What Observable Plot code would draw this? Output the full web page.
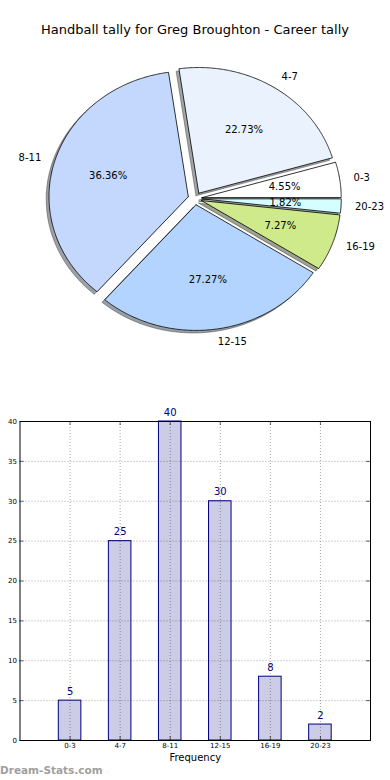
<!DOCTYPE html>
<html><head><meta charset="utf-8">
<script src="https://cdn.jsdelivr.net/npm/d3@7"></script>
<script src="https://cdn.jsdelivr.net/npm/@observablehq/plot@0.6"></script>
<style>
body{margin:0;background:#fff;font-family:"DejaVu Sans",sans-serif}
#wrap{position:relative;width:390px;height:780px;overflow:hidden;background:#fff}
#title{position:absolute;left:0;top:21px;width:390px;text-align:center;font-size:13px;line-height:18px;color:#000}
#pie{position:absolute;left:0;top:0}
#bar{position:absolute;left:0;top:390px}
#wm{position:absolute;left:0;top:763px;font-size:10.5px;font-weight:bold;color:#a0a0a0;line-height:14px}
svg{overflow:visible}
</style></head><body>
<div id="wrap"><div id="pie"></div><div id="bar"></div><div id="title">Handball tally for Greg Broughton - Career tally</div><div id="wm">Dream-Stats.com</div></div>
<script>
const categories = ["0-3","4-7","8-11","12-15","16-19","20-23"];
const frequencies = [5,25,40,30,8,2];
const sliceColors = ["#ffffff","#eaf2fe","#c4d8fe","#b3d4fe","#cfea8a","#d5feff"];
const yTicks = [0,5,10,15,20,25,30,35,40];

// pie geometry (matplotlib-like: start at 0°, counter-clockwise)
const total = d3.sum(frequencies);
const explode = 0.05, labelDist = 1.1, pctDist = 0.6;
let cum = 0;
const slices = categories.map((c,i) => {
  const t1 = cum/total*2*Math.PI; cum += frequencies[i]; const t2 = cum/total*2*Math.PI;
  const tm = (t1+t2)/2;
  const cx = explode*Math.cos(tm), cy = explode*Math.sin(tm);
  const n = Math.max(2, Math.ceil((t2-t1)/(Math.PI/360)));
  const pts = [{x:cx,y:cy}];
  for (let k=0;k<=n;k++){const t=t1+(t2-t1)*k/n; pts.push({x:cx+Math.cos(t), y:cy+Math.sin(t)});}
  pts.push({x:cx,y:cy});
  return {label:c, value:frequencies[i], color:sliceColors[i], pts,
    lx: cx+labelDist*Math.cos(tm), ly: cy+labelDist*Math.sin(tm),
    px: cx+pctDist*Math.cos(tm), py: cy+pctDist*Math.sin(tm),
    pct: (frequencies[i]/total*100).toFixed(2)+"%"};
});
function shadowOf(col){const c=d3.rgb(col);return d3.rgb(c.r*0.3,c.g*0.3,c.b*0.3).formatHex();}

const R = {cx:194.5, cy:198, rx:139.3, ry:125.7, W:390, H:390};
const pie = Plot.plot({
  width:R.W, height:R.H, margin:0,
  style:{fontFamily:"DejaVu Sans", background:"transparent"},
  x:{domain:[-R.cx/R.rx, (R.W-R.cx)/R.rx], axis:null},
  y:{domain:[-(R.H-R.cy)/R.ry, R.cy/R.ry], axis:null},
  marks:[
    ...slices.map(s=>Plot.line(s.pts,{x:d=>d.x-0.02,y:d=>d.y-0.02, fill:shadowOf(s.color), fillOpacity:0.5, stroke:shadowOf(s.color), strokeOpacity:0.5, strokeWidth:1})),
    ...slices.map(s=>Plot.line(s.pts,{x:"x",y:"y",fill:s.color,stroke:"#000",strokeWidth:0.8,strokeLinejoin:"miter"})),
    Plot.text(slices.filter(s=>s.lx>0),{x:"lx",y:"ly",text:"label",textAnchor:"start",fontSize:10}),
    Plot.text(slices.filter(s=>s.lx<=0),{x:"lx",y:"ly",text:"label",textAnchor:"end",fontSize:10}),
    Plot.text(slices,{x:"px",y:"py",text:"pct",fontSize:10})
  ]
});
document.getElementById("pie").appendChild(pie);

const barData = categories.map((c,i)=>({label:c, value:frequencies[i], pos:i+1}));
const positions = barData.map(d=>d.pos);
const M = {t:31,b:40,l:19.5,r:20,W:390,H:390};
const pw = M.W-M.l-M.r, ph = M.H-M.t-M.b, tl = 4;
const bar = Plot.plot({
  width:M.W, height:M.H, marginTop:M.t, marginBottom:M.b, marginLeft:M.l, marginRight:M.r,
  style:{fontFamily:"DejaVu Sans", background:"transparent"},
  x:{domain:[0,7], axis:null},
  y:{domain:[0,40], axis:null},
  marks:[
    Plot.rectY(barData,{x1:d=>d.pos-0.225, x2:d=>d.pos+0.225, y:"value", fill:"#ccccE6", stroke:"#000080", strokeWidth:1}),
    Plot.gridX(positions,{stroke:"#000", strokeOpacity:0.35, strokeDasharray:"1,2", strokeWidth:1}),
    Plot.gridY(yTicks,{stroke:"#000", strokeOpacity:0.35, strokeDasharray:"1,2", strokeWidth:1}),
    Plot.tickY(yTicks,{y:d=>d, insetRight:pw-tl, stroke:"#000", strokeWidth:0.6}),
    Plot.tickY(yTicks,{y:d=>d, insetLeft:pw-tl, stroke:"#000", strokeWidth:0.6}),
    Plot.tickX(positions,{x:d=>d, insetBottom:ph-tl, stroke:"#000", strokeWidth:0.6}),
    Plot.tickX(positions,{x:d=>d, insetTop:ph-tl, stroke:"#000", strokeWidth:0.6}),
    Plot.frame({stroke:"#000", strokeWidth:1}),
    Plot.axisY({ticks:yTicks, tickSize:0, tickPadding:3, fontSize:7, label:null}),
    Plot.axisX({ticks:positions, tickFormat:d=>categories[d-1], tickSize:0, tickPadding:3, fontSize:7, label:null}),
    Plot.text(barData,{x:"pos", y:"value", text:d=>String(d.value), dy:-9, fill:"#000080", fontSize:10}),
    Plot.text(["Frequency"],{frameAnchor:"bottom", text:d=>d, dy:20, fontSize:10})
  ]
});
document.getElementById("bar").appendChild(bar);
</script>
</body></html>
